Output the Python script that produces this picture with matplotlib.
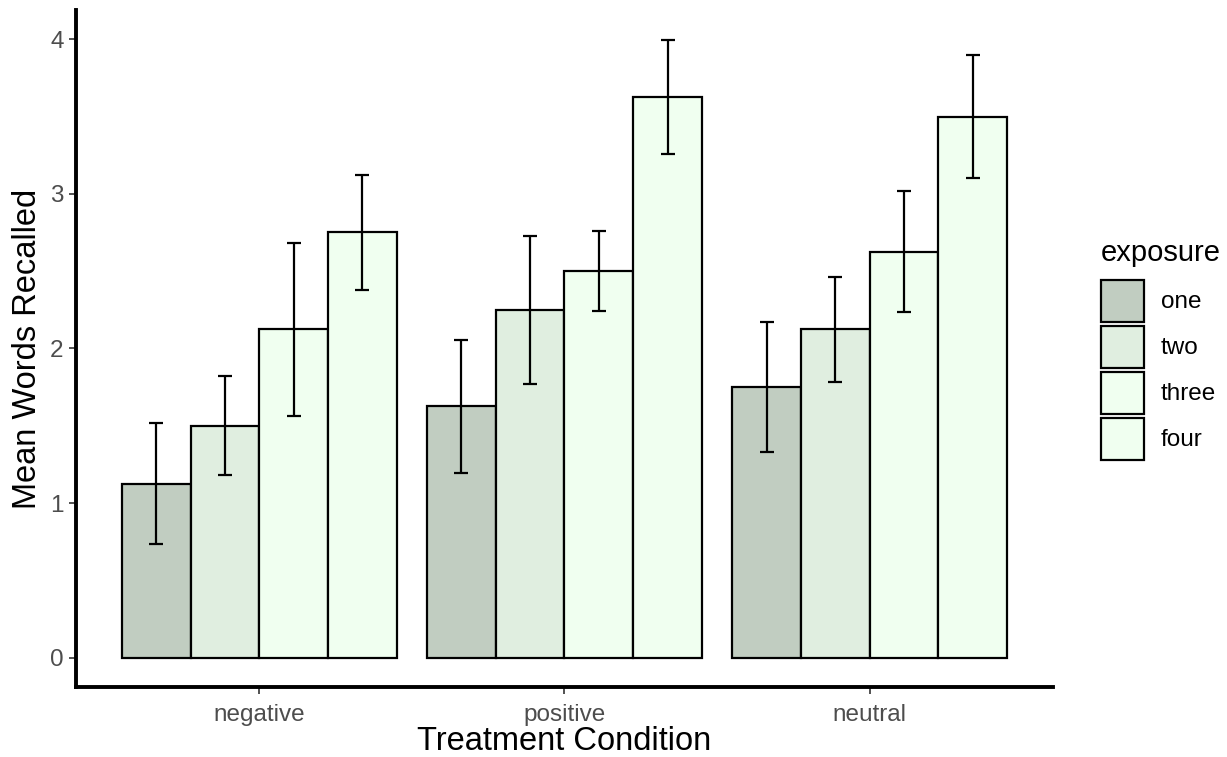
# grouped bar chart: mean words recalled by treatment and exposure
import numpy as np
import matplotlib.pyplot as plt
from matplotlib.patches import Patch

plt.rcParams['font.family'] = ['Liberation Sans', 'DejaVu Sans']

conditions = ['negative', 'positive', 'neutral']
exposures = ['one', 'two', 'three', 'four']
colors = ['#C1CDC1', '#E0EEE0', '#F0FFF0', '#F0FFF0']

# means per exposure (rows) for each condition (columns)
means = np.array([[1.125, 1.625, 1.75],
                  [1.5, 2.25, 2.125],
                  [2.125, 2.5, 2.625],
                  [2.75, 3.625, 3.5]])
# half-width of error bars
errs = np.array([[0.39, 0.43, 0.42],
                 [0.32, 0.48, 0.34],
                 [0.56, 0.26, 0.39],
                 [0.37, 0.37, 0.40]])

fig = plt.figure(figsize=(12.27, 7.57), dpi=100)
ax = fig.add_axes([0.0620, 0.0925, 0.7961, 0.8945])

x = np.arange(1, len(conditions) + 1)
w = 0.9 / len(exposures)
for i, lab in enumerate(exposures):
    pos = x - 0.45 + w * (i + 0.5)
    ax.bar(pos, means[i], width=w, color=colors[i], edgecolor='black',
           linewidth=1.6, zorder=2)
    ax.errorbar(pos, means[i], yerr=errs[i], fmt='none', ecolor='black',
                elinewidth=1.6, capsize=5, capthick=1.6, zorder=3)

ax.set_xlim(0.4, 3.6)
ax.set_ylim(-0.19, 4.19)
ax.set_xticks(x)
ax.set_xticklabels(conditions)
ax.set_yticks([0, 1, 2, 3, 4])
ax.tick_params(axis='both', colors='#333333', labelcolor='#4D4D4D',
               labelsize=17.5, length=5, width=1.2)
ax.tick_params(axis='x', pad=7.5)
ax.tick_params(axis='y', pad=4)
for s in ['top', 'right']:
    ax.spines[s].set_visible(False)
for s in ['left', 'bottom']:
    ax.spines[s].set_linewidth(2.8)
ax.set_xlabel('Treatment Condition', fontsize=23.5, labelpad=0)
ax.set_ylabel('Mean Words Recalled', fontsize=23.5, labelpad=5)

handles = [Patch(facecolor=c, edgecolor='black', linewidth=1.6) for c in colors]
leg = fig.legend(handles, exposures, title='exposure', loc='upper left',
                 bbox_to_anchor=(0.8973, 0.684), frameon=False, fontsize=17.5,
                 title_fontsize=21, handlelength=1.75, handleheight=2.3,
                 labelspacing=0.15, handletextpad=0.7, alignment='left',
                 borderaxespad=0, borderpad=0)
leg._legend_box.sep = 9  # extra room between title and keys

fig.savefig('out.png', dpi=100)
